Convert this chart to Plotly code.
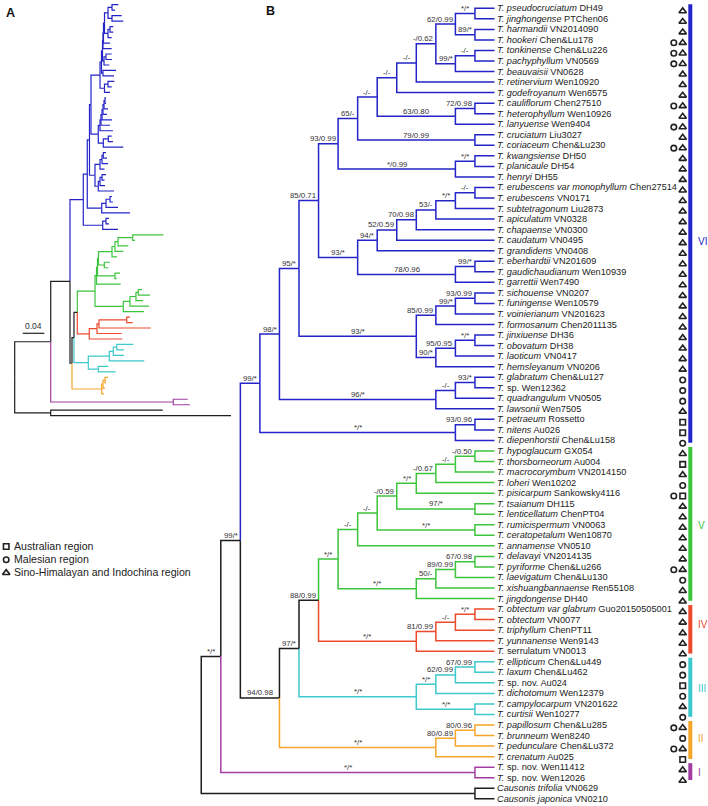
import plotly.graph_objects as go

# ------------------------------------------------------------------ data
tip_species = [
    "T. pseudocruciatum", "T. jinghongense", "T. harmandii", "T. hookeri", "T. tonkinense",
    "T. pachyphyllum", "T. beauvaisii", "T. retinervium", "T. godefroyanum", "T. cauliflorum",
    "T. heterophyllum", "T. lanyuense", "T. cruciatum", "T. coriaceum", "T. kwangsiense",
    "T. planicaule", "T. henryi", "T. erubescens var monophyllum", "T. erubescens", "T. subtetragonum",
    "T. apiculatum", "T. chapaense", "T. caudatum", "T. grandidens", "T. eberhardtii",
    "T. gaudichaudianum", "T. garrettii", "T. sichouense", "T. funingense", "T. voinierianum",
    "T. formosanum", "T. jinxiuense", "T. obovatum", "T. laoticum", "T. hemsleyanum",
    "T. glabratum", "T.", "T. quadrangulum", "T. lawsonii", "T. petraeum",
    "T. nitens", "T. diepenhorstii", "T. hypoglaucum", "T. thorsborneorum", "T. macrocorymbum",
    "T. loheri", "T. pisicarpum", "T. tsaianum", "T. lenticellatum", "T. rumicispermum",
    "T. ceratopetalum", "T. annamense", "T. delavayi", "T. pyriforme", "T. laevigatum",
    "T. xishuangbannaense", "T. jingdongense", "T. obtectum var glabrum", "T. obtectum", "T. triphyllum",
    "T. yunnanense", "T.", "T. ellipticum", "T. laxum", "T.",
    "T. dichotomum", "T. campylocarpum", "T. curtisii", "T. papillosum", "T. brunneum",
    "T. pedunculare", "T. crenatum", "T.", "T.", "Causonis trifolia", "Causonis japonica",
]
tip_voucher = [
    "DH49", "PTChen06", "VN2014090", "Chen&Lu178", "Chen&Lu226",
    "VN0569", "VN0628", "Wen10920", "Wen6575", "Chen27510",
    "Wen10926", "Wen9404", "Liu3027", "Chen&Lu230", "DH50",
    "DH54", "DH55", "Chen27514", "VN0171", "Liu2873",
    "VN0328", "VN0300", "VN0495", "VN0408", "VN201609",
    "Wen10939", "Wen7490", "VN0207", "Wen10579", "VN201623",
    "Chen2011135", "DH36", "DH38", "VN0417", "VN0206",
    "Chen&Lu127", "sp. Wen12362", "VN0505", "Wen7505", "Rossetto",
    "Au026", "Chen&Lu158", "GX054", "Au004", "VN2014150",
    "Wen10202", "Sankowsky4116", "DH115", "ChenPT04", "VN0063",
    "Wen10870", "VN0510", "VN2014135", "Chen&Lu266", "Chen&Lu130",
    "Ren55108", "DH40", "Guo20150505001", "VN0077", "ChenPT11",
    "Wen9143", "serrulatum VN0013", "Chen&Lu449", "Chen&Lu462", "sp. nov. Au024",
    "Wen12379", "VN201622", "Wen10277", "Chen&Lu285", "Wen8240",
    "Chen&Lu372", "Au025", "sp. nov. Wen11412", "sp. nov. Wen12026", "VN0629", "VN0210",
]
# S = Australian, O = Malesian, T = Sino-Himalayan and Indochina
tip_regions = (
    ["T", "T", "T", "OT", "OT", "OT", "T", "T", "T", "OT", "T", "OT", "T", "OT", "T", "T", "T"]
    + ["T"] * 18
    + ["O", "O", "O", "T", "S", "S", "O"]
    + ["T", "S", "T", "O", "OS", "T", "T", "T", "T", "T", "T", "OT", "O", "T", "T"]
    + ["T", "T", "T", "T", "T"]
    + ["O", "O", "S", "O", "T", "O"]
    + ["OT", "O", "OT", "S"]
    + ["T", "T"]
    + ["", ""]
)
# panel A (phylogram): root-to-tip distance (substitutions/site)
tip_len_A = [
    0.1919, 0.1857, 0.1981, 0.2011, 0.1826, 0.1826, 0.1796, 0.1765, 0.1796, 0.1796,
    0.1802, 0.1752, 0.1876, 0.1839, 0.1844, 0.1796, 0.1765, 0.1691, 0.1691, 0.1728,
    0.1709, 0.1802, 0.1765, 0.1820, 0.1796, 0.1820, 0.2011, 0.1691, 0.1709, 0.1728,
    0.1663, 0.1691, 0.1663, 0.1672, 0.1839, 0.1802, 0.1820, 0.1913, 0.2135, 0.1746,
    0.1746, 0.1913, 0.2752, 0.2228, 0.2104, 0.2011, 0.1894, 0.1765, 0.1733, 0.1950,
    0.1889, 0.1963, 0.2357, 0.2506, 0.2376, 0.2487, 0.2394, 0.2135, 0.2185, 0.2519,
    0.1981, 0.1993, 0.2196, 0.2024, 0.2024, 0.2400, 0.1733, 0.1870, 0.1728, 0.1691,
    0.1672, 0.1654, 0.3204, 0.3246, 0.2741, 0.4006,
]
node_ids = [
    "na", "nb", "nc", "nd", "ne", "nf", "ng", "nh", "ni", "nj", "nk", "nl", "nm", "nn", "no", "np",
    "nr", "ns", "nt", "nu", "nv", "nw", "nx", "ny", "nz", "nq",
    "naa", "nab", "nac", "nad", "nae", "naf", "nag", "nah",
    "nai", "naj", "nak", "nal", "nam", "nan", "nao",
    "nap", "naq", "nar", "nas", "nat", "nau", "nav", "naw", "nax",
    "nay", "naz", "nba", "nbb", "nbc",
    "nbf", "nbg", "nbh", "nbe", "nbd",
    "nbi", "nbj", "nbk", "nbl", "nbm", "nbn",
    "nbo", "nbp", "nbq", "nbr", "nbs",
    "nbu", "nbt", "nbv", "root",
]
node_kids = [
    (0, 1), (2, 3), ("na", "nb"), (4, 5), ("nd", 6), ("nc", "ne"), ("nf", 7), ("ng", 8),
    (9, 10), ("ni", 11), ("nh", "nj"), (12, 13), ("nk", "nl"), (14, 15), ("nn", 16), ("nm", "no"),
    (17, 18), ("nr", 19), ("ns", 20), ("nt", 21), ("nu", 22), ("nv", 23), (24, 25), ("nx", 26),
    ("nw", "ny"), ("np", "nz"),
    (27, 28), ("naa", 29), ("nab", 30), (31, 32), ("nad", 33), ("nae", 34), ("nac", "naf"), ("nq", "nag"),
    (35, 36), ("nai", 37), ("naj", 38), ("nah", "nak"), (39, 40), ("nam", 41), ("nal", "nan"),
    (42, 43), ("nap", 44), ("naq", 45), ("nar", 46), (47, 48), ("nas", "nat"), (49, 50), ("nau", "nav"),
    ("naw", 51),
    (52, 53), ("nay", 54), ("naz", 55), ("nba", 56), ("nax", "nbb"),
    (57, 58), ("nbf", 59), ("nbg", 60), ("nbh", 61), ("nbc", "nbe"),
    (62, 63), ("nbi", 64), ("nbj", 65), (66, 67), ("nbk", "nbl"), ("nbd", "nbm"),
    (68, 69), ("nbo", 70), ("nbp", 71), ("nbn", "nbq"), ("nao", "nbr"),
    (72, 73), ("nbs", "nbu"), (74, 75), ("nbt", "nbv"),
]
node_support = [
    "*/*", "89/*", "62/0.99", "-/-", "99/*", "-/0.62", "-/-", "-/-", "72/0.98", "63/0.80",
    "-/-", "79/0.99", "65/-", "*/*", "*/0.99", "93/0.99",
    "-/-", "*/*", "53/-", "70/0.98", "52/0.59", "94/*", "99/*", "78/0.96", "93/*", "85/0.71",
    "93/0.99", "99/*", "85/0.99", "*/*", "95/0.95", "90/*", "93/*", "95/*",
    "93/*", "-/-", "96/*", "98/*", "93/0.96", "*/*", "99/*",
    "-/0.50", "-/-", "-/0.67", "*/*", "97/*", "-/0.59", "*/*", "-/-", "-/-",
    "67/0.98", "89/0.99", "50/-", "*/*", "*/*",
    "*/*", "-/-", "81/0.99", "*/*", "88/0.99",
    "67/0.99", "62/0.99", "*/*", "*/*", "*/*", "97/*",
    "80/0.96", "80/0.89", "*/*", "94/0.98", "99/*",
    "*/*", "*/*", "", "",
]
node_len_A = [
    0.1802, 0.1802, 0.1728, 0.1765, 0.1728, 0.1663, 0.1644, 0.1635, 0.1691, 0.1654,
    0.1626, 0.1635, 0.1607, 0.1728, 0.1663, 0.1580,
    0.1672, 0.1654, 0.1635, 0.1617, 0.1598, 0.1580, 0.1733, 0.1641, 0.1548, 0.1413,
    0.1641, 0.1617, 0.1580, 0.1617, 0.1580, 0.1548, 0.1487, 0.1385,
    0.1765, 0.1691, 0.1611, 0.1344, 0.1691, 0.1630, 0.1270,
    0.2185, 0.1913, 0.1857, 0.1802, 0.1659, 0.1552, 0.1857, 0.1533, 0.1515,
    0.2289, 0.2246, 0.2135, 0.2011, 0.1487,
    0.2074, 0.1561, 0.1524, 0.1381, 0.1159,
    0.1889, 0.1826, 0.1752, 0.1548, 0.1363, 0.1098,
    0.1672, 0.1635, 0.1611, 0.1061, 0.1024,
    0.2937, 0.0667, 0.0667, 0.0,
]
clade_names = ["VI", "V", "IV", "III", "II", "I"]
clade_first = [0, 42, 57, 62, 68, 72]
clade_last = [41, 56, 61, 67, 71, 73]
clade_colors = ["#2424c8", "#3cc43c", "#ec4a2c", "#3ec8cc", "#f5a52a", "#a23ea2"]
region_codes = ["S", "O", "T"]
region_names = ["Australian region", "Malesian region", "Sino-Himalayan and Indochina region"]
scale_bar_value = 0.04

# ------------------------------------------------------------------ layout constants
W, H = 708, 806
FONT = "Liberation Sans, Arial, sans-serif"
INK = "#222222"
B_TIP_X, B_STEP = 494.5, 19.55          # panel B: cladogram level -> pixel
B_Y0, B_DY = 8.3, 10.54                 # panel B: row -> pixel
A_X0, A_PX = 14.7, 540.0                # panel A: distance -> pixel
A_Y0, A_DY = 4.7, 5.48                  # panel A: row -> pixel
FS_TIP, FS_SUP = 9.2, 7.8
N = len(tip_species)
assert len(tip_voucher) == N and len(tip_regions) == N and len(tip_len_A) == N
assert len(node_ids) == len(node_kids) == len(node_support) == len(node_len_A)


def rowB(py):
    return (py - B_Y0) / B_DY


def rowA(py):
    return (py - A_Y0) / A_DY


kids = dict(zip(node_ids, node_kids))
sup = dict(zip(node_ids, node_support))
lenA = dict(zip(node_ids, node_len_A))

tip_clade = [None] * N
for ci, (f, l) in enumerate(zip(clade_first, clade_last)):
    for t in range(f, l + 1):
        tip_clade[t] = ci

height, ypos, tipset = {}, {}, {}


def walk(c):
    if isinstance(c, int):
        height[c], ypos[c], tipset[c] = 0, c, {c}
        return
    a, b = kids[c]
    walk(a)
    walk(b)
    height[c] = 1 + max(height[a], height[b])
    ypos[c] = (ypos[a] + ypos[b]) / 2
    tipset[c] = tipset[a] | tipset[b]


walk("root")


def color_of(c):
    cl = {tip_clade[t] for t in tipset[c]}
    if len(cl) == 1 and None not in cl:
        return clade_colors[cl.pop()]
    return "#1e1e1e"


def xB(c):
    return B_TIP_X - B_STEP * height[c]


def dA(c):
    return tip_len_A[c] if isinstance(c, int) else lenA[c]


segB, segA = {}, {}
for p in node_ids:
    for c in kids[p]:
        col = color_of(c)
        sb = segB.setdefault(col, ([], []))
        sb[0].extend([xB(p), xB(p), xB(c), None])
        sb[1].extend([ypos[p], ypos[c], ypos[c], None])
        sa = segA.setdefault(col, ([], []))
        sa[0].extend([dA(p), dA(p), dA(c), None])
        sa[1].extend([ypos[p], ypos[c], ypos[c], None])

fig = go.Figure()
for col, (xs, ys) in segB.items():
    fig.add_trace(go.Scatter(x=xs, y=ys, mode="lines", line=dict(color=col, width=1.5),
                             hoverinfo="skip", xaxis="x", yaxis="y"))
for col, (xs, ys) in segA.items():
    fig.add_trace(go.Scatter(x=xs, y=ys, mode="lines", line=dict(color=col, width=1.2),
                             hoverinfo="skip", xaxis="x2", yaxis="y2"))

ann = []
CW = {"/": 0.278, ".": 0.278, "*": 0.389, "-": 0.333}


def text_w(s, fs):
    return sum(CW.get(ch, 0.556) for ch in s) * fs


# support values above branches
for p in node_ids:
    for c in kids[p]:
        if isinstance(c, int) or not sup[c]:
            continue
        w = text_w(sup[c], FS_SUP)
        mid = (xB(p) + xB(c)) / 2
        cx = min(mid, xB(c) - 2.5 - w / 2)
        ann.append(dict(x=cx, y=ypos[c], xref="x", yref="y", text=sup[c], showarrow=False,
                        xanchor="center", yanchor="bottom", yshift=-1.5,
                        font=dict(size=FS_SUP, color="#333333", family=FONT)))

# tip labels
for i in range(N):
    v = tip_voucher[i].replace("&", "&amp;")
    ann.append(dict(x=B_TIP_X + 0.3, y=i, xref="x", yref="y",
                    text="<i>%s</i> %s" % (tip_species[i], v), showarrow=False,
                    xanchor="left", yanchor="middle",
                    font=dict(size=FS_TIP, color=INK, family=FONT)))

# region symbols
sym = {"S": "square-open", "O": "circle-open", "T": "triangle-up-open"}
msize = {"S": 5.5, "O": 5.5, "T": 6.5}
cols_x = [673.8, 682.7]
mk = {k: ([], []) for k in sym}
for i, r in enumerate(tip_regions):
    for j, code in enumerate(r):
        x = cols_x[1] if j == len(r) - 1 else cols_x[0]
        mk[code][0].append(x)
        mk[code][1].append(i + 0.27)
for code, (xs, ys) in mk.items():
    fig.add_trace(go.Scatter(x=xs, y=ys, mode="markers", hoverinfo="skip",
                             marker=dict(symbol=sym[code], size=msize[code], color=INK,
                                         line=dict(width=1.6, color=INK)),
                             xaxis="x", yaxis="y"))

# clade bars and labels
label_shift = {"VI": 1.55, "IV": -0.55, "II": -0.3}
for name, f, l, col in zip(clade_names, clade_first, clade_last, clade_colors):
    fig.add_trace(go.Scatter(x=[690.3, 690.3], y=[f - 0.38, l + 0.22], mode="lines",
                             line=dict(color=col, width=4), hoverinfo="skip",
                             xaxis="x", yaxis="y"))
    ann.append(dict(x=695.5, y=(f + l) / 2 + 0.05 + label_shift.get(name, 0), xref="x", yref="y",
                    text=name, showarrow=False, xanchor="left", yanchor="middle",
                    font=dict(size=10, color=col, family=FONT)))

# legend
for k, (code, name) in enumerate(zip(region_codes, region_names)):
    py = 546 + 13.2 * k
    fig.add_trace(go.Scatter(x=[6.2], y=[rowB(py + 0.5)], mode="markers", hoverinfo="skip",
                             marker=dict(symbol=sym[code], size=msize[code], color=INK,
                                         line=dict(width=1.6, color=INK)),
                             xaxis="x", yaxis="y"))
    ann.append(dict(x=11.5, y=rowB(py), xref="x", yref="y", text=name, showarrow=False,
                    xanchor="left", yanchor="middle",
                    font=dict(size=10.6, color=INK, family=FONT)))

# scale bar (panel A)
sb0 = (22.7 - A_X0) / A_PX
fig.add_trace(go.Scatter(x=[sb0, sb0 + scale_bar_value], y=[rowA(333.3)] * 2, mode="lines",
                         line=dict(color=INK, width=1.2), hoverinfo="skip",
                         xaxis="x2", yaxis="y2"))
ann.append(dict(x=sb0 + scale_bar_value / 2, y=rowA(333.3), xref="x2", yref="y2",
                text="%.2f" % scale_bar_value, showarrow=False, xanchor="center",
                yanchor="bottom", yshift=0,
                font=dict(size=8.5, color="#333333", family=FONT)))

# panel letters
for letter, px, py in [("A", 3.5, 3.5), ("B", 263.5, 2.5)]:
    ann.append(dict(x=px / W, y=1 - py / H, xref="paper", yref="paper", text="<b>%s</b>" % letter,
                    showarrow=False, xanchor="left", yanchor="top",
                    font=dict(size=12.5, color="#111111", family=FONT)))

fig.update_layout(
    width=W, height=H, autosize=False,
    margin=dict(l=0, r=0, t=0, b=0, pad=0),
    paper_bgcolor="white", plot_bgcolor="white",
    showlegend=False, annotations=ann,
    xaxis=dict(range=[0, W], visible=False, domain=[0, 1], fixedrange=True),
    yaxis=dict(range=[rowB(H), rowB(0)], visible=False, domain=[0, 1], fixedrange=True),
    xaxis2=dict(range=[(0 - A_X0) / A_PX, (W - A_X0) / A_PX], visible=False,
                overlaying="x", anchor="y2", fixedrange=True),
    yaxis2=dict(range=[rowA(H), rowA(0)], visible=False, overlaying="y", anchor="x2",
                fixedrange=True),
)

fig.write_html("out.html", config={"displayModeBar": False, "staticPlot": True},
               post_script="document.body.style.margin='0';document.body.style.overflow='hidden';")
